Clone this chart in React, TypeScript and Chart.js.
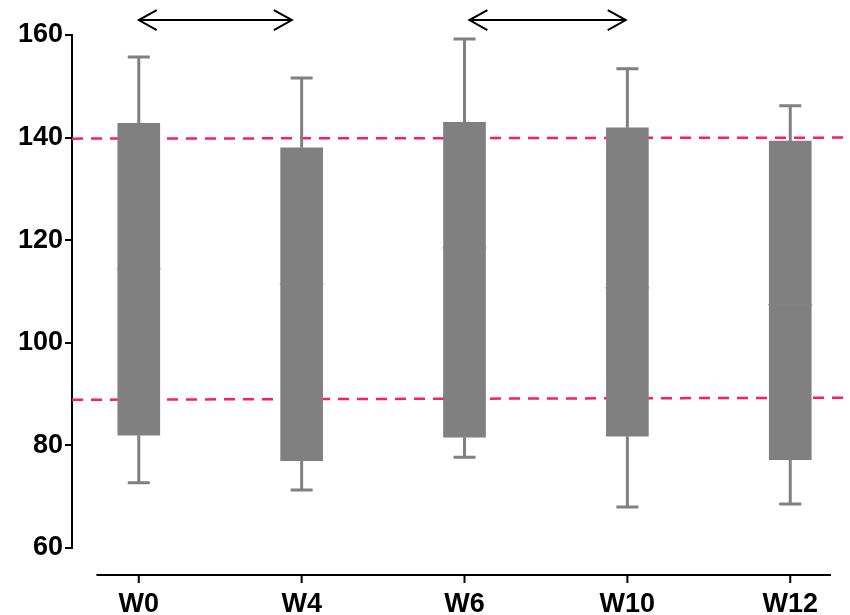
import React, { useEffect, useRef } from "react";
import { Chart, registerables } from "chart.js";

Chart.register(...registerables);

const categories = ["W0", "W4", "W6", "W10", "W12"];
const whiskerLow = [72.7, 71.3, 77.7, 68.0, 68.6];
const q1 = [82.0, 77.0, 81.6, 81.8, 77.2];
const median = [114.4, 111.5, 118.5, 110.7, 107.4];
const q3 = [142.8, 138.0, 143.0, 141.9, 139.3];
const whiskerHigh = [155.7, 151.6, 159.2, 153.4, 146.2];

const upperRef = [139.8, 140.0];
const lowerRef = [88.9, 89.3];
const refX = [-0.41, 4.33];

const arrowFrom = [0, 2.03];
const arrowTo = [0.94, 2.99];
const arrowLevel = 162.9;

const yTicks = [60, 80, 100, 120, 140, 160];

const boxPlugin = {
  id: "boxExtras",
  afterDatasetsDraw(chart: any) {
    const { ctx, scales } = chart;
    const xs = scales.x;
    const ys = scales.y;
    ctx.save();
    ctx.strokeStyle = "#808080";
    ctx.lineWidth = 3;
    categories.forEach((_, i) => {
      const cx = xs.getPixelForValue(i);
      const lo = ys.getPixelForValue(whiskerLow[i]);
      const hi = ys.getPixelForValue(whiskerHigh[i]);
      const b1 = ys.getPixelForValue(q1[i]);
      const b3 = ys.getPixelForValue(q3[i]);
      ctx.beginPath();
      ctx.moveTo(cx, b3);
      ctx.lineTo(cx, hi);
      ctx.moveTo(cx - 11, hi);
      ctx.lineTo(cx + 11, hi);
      ctx.moveTo(cx, b1);
      ctx.lineTo(cx, lo);
      ctx.moveTo(cx - 11, lo);
      ctx.lineTo(cx + 11, lo);
      ctx.stroke();
    });
    ctx.strokeStyle = "#838383";
    ctx.lineWidth = 1;
    categories.forEach((_, i) => {
      const cx = xs.getPixelForValue(i);
      const m = ys.getPixelForValue(median[i]);
      ctx.beginPath();
      ctx.moveTo(cx - 22, m);
      ctx.lineTo(cx + 22, m);
      ctx.stroke();
    });
    ctx.restore();
  },
  afterDraw(chart: any) {
    const { ctx, scales, chartArea } = chart;
    const xs = scales.x;
    const ys = scales.y;
    ctx.save();
    const axY = chartArea.bottom + 27;
    ctx.strokeStyle = "#000";
    ctx.lineWidth = 2;
    ctx.beginPath();
    ctx.moveTo(xs.getPixelForValue(-0.26), axY);
    ctx.lineTo(xs.getPixelForValue(4.25), axY);
    categories.forEach((_, i) => {
      const cx = xs.getPixelForValue(i);
      ctx.moveTo(cx, axY);
      ctx.lineTo(cx, axY + 8);
    });
    ctx.stroke();
    const ay = ys.getPixelForValue(arrowLevel);
    ctx.lineWidth = 2;
    arrowFrom.forEach((f, i) => {
      const x1 = xs.getPixelForValue(f);
      const x2 = xs.getPixelForValue(arrowTo[i]);
      ctx.beginPath();
      ctx.moveTo(x1, ay);
      ctx.lineTo(x2, ay);
      ctx.moveTo(x1 + 18, ay - 10);
      ctx.lineTo(x1, ay);
      ctx.lineTo(x1 + 18, ay + 10);
      ctx.moveTo(x2 - 18, ay - 10);
      ctx.lineTo(x2, ay);
      ctx.lineTo(x2 - 18, ay + 10);
      ctx.stroke();
    });
    ctx.restore();
  },
};

export default function App() {
  const ref = useRef<HTMLCanvasElement>(null);
  useEffect(() => {
    const canvas = ref.current;
    if (!canvas) return;
    const font = { family: "'Liberation Sans', Arial, sans-serif", size: 27, weight: "bold" as const };
    const chart = new Chart(canvas, {
      type: "bar",
      data: {
        datasets: [
          {
            type: "bar",
            data: categories.map((_, i) => ({ x: i, y: [q1[i], q3[i]] })) as any,
            backgroundColor: "#808080",
            borderWidth: 0,
            barThickness: 42,
            order: 0,
          },
          {
            type: "line",
            data: refX.map((x, i) => ({ x, y: upperRef[i] })) as any,
            borderColor: "#FF1A6E",
            borderWidth: 2.5,
            borderDash: [11, 8],
            pointRadius: 0,
            order: 1,
          },
          {
            type: "line",
            data: refX.map((x, i) => ({ x, y: lowerRef[i] })) as any,
            borderColor: "#FF1A6E",
            borderWidth: 2.5,
            borderDash: [11, 8],
            pointRadius: 0,
            order: 1,
          },
        ],
      },
      options: {
        animation: false,
        responsive: false,
        layout: { padding: { top: 35, right: 0, left: 0, bottom: 0 } },
        plugins: { legend: { display: false }, tooltip: { enabled: false } },
        scales: {
          x: {
            type: "linear",
            offset: false,
            min: refX[0],
            max: refX[1],
            grid: { display: false, offset: false },
            border: { display: false },
            afterBuildTicks: (s: any) => {
              s.ticks = categories.map((_, i) => ({ value: i }));
            },
            afterFit: (s: any) => {
              s.height = 67;
            },
            ticks: {
              autoSkip: false,
              maxRotation: 0,
              padding: 32,
              color: "#000",
              font,
              callback: (v: any) => categories[Math.round(Number(v))] ?? "",
            },
          },
          y: {
            type: "linear",
            min: 60,
            max: 160,
            afterBuildTicks: (s: any) => {
              s.ticks = yTicks.map((value) => ({ value }));
            },
            afterFit: (s: any) => {
              s.width = 72;
            },
            grid: {
              drawOnChartArea: false,
              drawTicks: true,
              tickLength: 7,
              color: "#000",
              lineWidth: 2,
            },
            border: { display: true, color: "#000", width: 2 },
            ticks: { color: "#000", font, padding: 2 },
          },
        },
      },
      plugins: [boxPlugin],
    });
    return () => chart.destroy();
  }, []);
  return (
    <canvas
      ref={ref}
      width={850}
      height={615}
      style={{ position: "absolute", left: 0, top: 0, display: "block" }}
    />
  );
}
